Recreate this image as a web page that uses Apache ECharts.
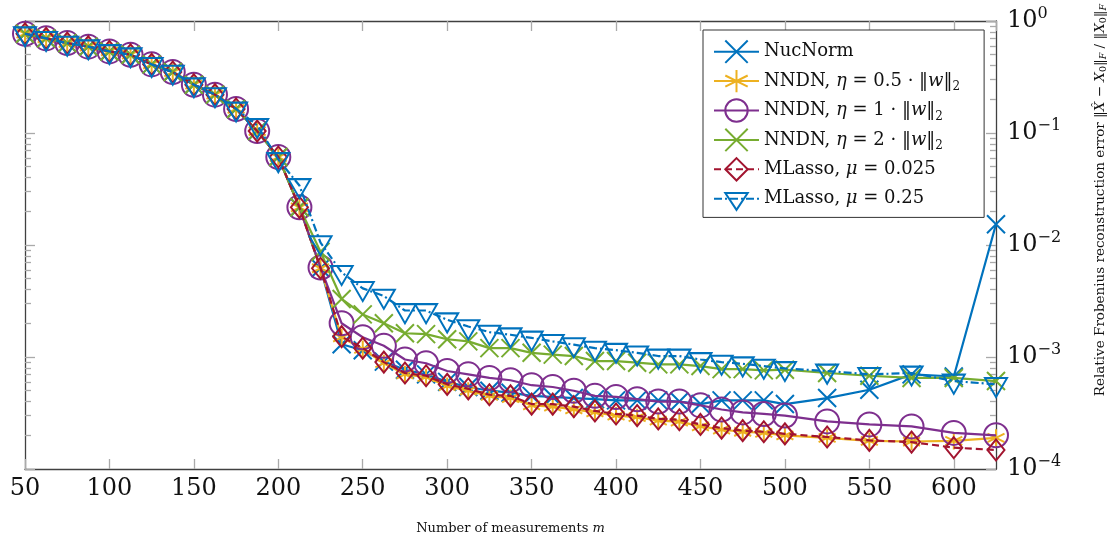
<!DOCTYPE html>
<html><head><meta charset="utf-8">
<script src="https://cdn.jsdelivr.net/npm/echarts@6/dist/echarts.min.js"></script>
<style>html,body{margin:0;padding:0;background:#fff}#c{width:1117px;height:540px}</style>
</head><body><div id="c"></div>
<script>
const xValues = [50, 62.5, 75, 87.5, 100, 112.5, 125, 137.5, 150, 162.5, 175, 187.5, 200, 212.5, 225, 237.5, 250, 262.5, 275, 287.5, 300, 312.5, 325, 337.5, 350, 362.5, 375, 387.5, 400, 412.5, 425, 437.5, 450, 462.5, 475, 487.5, 500, 525, 550, 575, 600, 625];

const nucNorm = [0.77, 0.70, 0.635, 0.59, 0.535, 0.50, 0.41, 0.35, 0.27, 0.22, 0.164, 0.104, 0.061, 0.0217, 0.0062, 0.0013, 0.00115, 0.00091, 0.00077, 0.0007, 0.0006, 0.00054, 0.0005, 0.00048, 0.00045, 0.00044, 0.00043, 0.00042, 0.00041, 0.00041, 0.00041, 0.0004, 0.00038, 0.00041, 0.00041, 0.00041, 0.00038, 0.00043, 0.00051, 0.0007, 0.00067, 0.0153];
const nndn05 = [0.77, 0.70, 0.635, 0.59, 0.535, 0.50, 0.41, 0.35, 0.27, 0.22, 0.164, 0.104, 0.061, 0.0217, 0.0062, 0.0015, 0.00118, 0.00088, 0.0007, 0.00066, 0.00055, 0.0005, 0.00045, 0.00043, 0.00037, 0.00036, 0.00034, 0.00032, 0.0003, 0.00029, 0.00027, 0.000265, 0.00024, 0.000225, 0.000215, 0.00021, 0.0002, 0.00019, 0.000178, 0.000176, 0.000178, 0.00019];
const nndn1 = [0.77, 0.70, 0.635, 0.59, 0.535, 0.50, 0.41, 0.35, 0.27, 0.22, 0.164, 0.104, 0.061, 0.0217, 0.0063, 0.002, 0.0015, 0.00126, 0.00095, 0.00088, 0.00075, 0.0007, 0.00065, 0.00062, 0.00056, 0.00054, 0.0005, 0.00045, 0.00044, 0.00042, 0.0004, 0.0004, 0.00037, 0.00034, 0.00032, 0.00031, 0.0003, 0.000266, 0.00025, 0.00024, 0.00021, 0.0002];
const nndn2 = [0.77, 0.70, 0.635, 0.59, 0.535, 0.50, 0.41, 0.35, 0.27, 0.22, 0.164, 0.104, 0.061, 0.0217, 0.0087, 0.0033, 0.0024, 0.002, 0.00163, 0.0016, 0.00144, 0.00138, 0.0012, 0.0012, 0.00109, 0.00105, 0.00102, 0.00092, 0.00092, 0.00089, 0.00086, 0.00086, 0.00083, 0.00078, 0.00078, 0.00076, 0.00077, 0.00072, 0.00068, 0.00065, 0.00065, 0.00061];
const mlasso025 = [0.77, 0.70, 0.635, 0.59, 0.535, 0.50, 0.41, 0.35, 0.27, 0.22, 0.164, 0.104, 0.061, 0.0217, 0.0062, 0.00152, 0.0012, 0.0009, 0.00072, 0.00068, 0.00057, 0.00052, 0.00046, 0.00045, 0.00038, 0.00038, 0.00036, 0.00033, 0.00031, 0.0003, 0.00028, 0.000275, 0.00025, 0.000232, 0.00022, 0.000215, 0.000206, 0.000193, 0.00018, 0.000174, 0.000155, 0.000148];
const mlasso25 = [0.77, 0.70, 0.635, 0.59, 0.535, 0.50, 0.41, 0.35, 0.27, 0.22, 0.164, 0.117, 0.058, 0.034, 0.0105, 0.0057, 0.0041, 0.0035, 0.0026, 0.0026, 0.00215, 0.00187, 0.00167, 0.00158, 0.00148, 0.00138, 0.00129, 0.0012, 0.00115, 0.00109, 0.00102, 0.00102, 0.00095, 0.0009, 0.00087, 0.00083, 0.00079, 0.00075, 0.0007, 0.00072, 0.00061, 0.00057];

const seriesNames = ['NucNorm', 'NNDN, η = 0.5 · ‖w‖2', 'NNDN, η = 1 · ‖w‖2', 'NNDN, η = 2 · ‖w‖2', 'MLasso, μ = 0.025', 'MLasso, μ = 0.25'];
const legendRich = [
  '{t|NucNorm}',
  '{t|NNDN, }{i|η}{t| = 0.5 · ‖}{i|w}{t|‖}{s|2}',
  '{t|NNDN, }{i|η}{t| = 1 · ‖}{i|w}{t|‖}{s|2}',
  '{t|NNDN, }{i|η}{t| = 2 · ‖}{i|w}{t|‖}{s|2}',
  '{t|MLasso, }{i|μ}{t| = 0.025}',
  '{t|MLasso, }{i|μ}{t| = 0.25}'
];
const yTickExponents = ['0', '−1', '−2', '−3', '−4'];

const FONT = 'DejaVu Serif';
const SYM_CROSS = 'path://M0,0L10,10M10,0L0,10';
const SYM_STAR = 'path://M5,0L5,10M0.67,2.5L9.33,7.5M0.67,7.5L9.33,2.5';
const SYM_DIAMOND = 'path://M5,0L10,6L5,12L0,6Z';
const SYM_TRI = 'path://M10,-5.77M0,0L20,0L10,17.32Z';

function mk(idx, vals, color, symbol, size, dash) {
  return {
    name: seriesNames[idx],
    type: 'line',
    data: xValues.map((x, i) => [x, vals[i]]),
    symbol: symbol,
    symbolSize: size,
    showAllSymbol: true,
    lineStyle: { color: color, width: 2.2, type: dash || 'solid' },
    itemStyle: { color: 'none', borderColor: color, borderWidth: 2 },
    emphasis: { disabled: true },
    z: 2 + idx
  };
}

const chart = echarts.init(document.getElementById('c'), null, { renderer: 'canvas' });
const axisLineStyle = { color: '#404040', width: 1.3 };
const tickStyle = { color: '#aaaaaa', width: 1.3 };
chart.setOption({
  animation: false,
  backgroundColor: '#fff',
  grid: { left: 25, right: 114, top: 21, bottom: 66 },
  xAxis: [{
    type: 'value', min: 50, max: 625, interval: 50, position: 'bottom',
    axisLine: { show: true, lineStyle: axisLineStyle },
    axisTick: { show: true, inside: true, length: 10, lineStyle: tickStyle },
    axisLabel: { fontFamily: FONT, fontSize: 24, color: '#111', margin: 8, showMaxLabel: false },
    splitLine: { show: false },
    name: '{t|Number of measurements }{i|m}', nameLocation: 'middle', nameGap: 53,
    nameTextStyle: { rich: { t: { fontFamily: FONT, fontSize: 13, color: '#111' }, i: { fontFamily: FONT, fontStyle: 'italic', fontSize: 13, color: '#111' } } }
  }, {
    type: 'value', min: 50, max: 625, interval: 50, position: 'top',
    axisLine: { show: true, lineStyle: axisLineStyle },
    axisTick: { show: true, inside: true, length: 10, lineStyle: tickStyle },
    axisLabel: { show: false }, splitLine: { show: false }
  }],
  yAxis: [{
    type: 'log', logBase: 10, min: 1e-4, max: 1, position: 'right',
    axisLine: { show: true, lineStyle: axisLineStyle },
    axisTick: { show: true, inside: true, length: 10, lineStyle: tickStyle },
    minorTick: { show: true, splitNumber: 9, length: 6, lineStyle: tickStyle },
    splitLine: { show: false }, minorSplitLine: { show: false },
    axisLabel: {
      margin: 11, color: '#111',
      formatter: v => '{b|10}{s|' + yTickExponents[Math.round(-Math.log10(v))] + '}',
      rich: {
        b: { fontFamily: FONT, fontSize: 24, lineHeight: 30, color: '#111' },
        s: { fontFamily: FONT, fontSize: 16, lineHeight: 16, verticalAlign: 'top', color: '#111' }
      }
    },
    name: '{t|Relative Frobenius reconstruction error ‖}{i|X̂}{t| − }{i|X}{s|0}{t|‖}{si|F}{t| / ‖}{i|X}{s|0}{t|‖}{si|F}',
    nameLocation: 'middle', nameRotate: 90, nameGap: 95,
    nameTextStyle: { padding: [0, 0, 0, 90], rich: {
      t: { fontFamily: FONT, fontSize: 13.5, lineHeight: 18, color: '#111' },
      i: { fontFamily: FONT, fontStyle: 'italic', fontSize: 13.5, lineHeight: 18, color: '#111' },
      s: { fontFamily: FONT, fontSize: 9.5, lineHeight: 11, verticalAlign: 'bottom', color: '#111' },
      si: { fontFamily: FONT, fontStyle: 'italic', fontSize: 9.5, lineHeight: 11, verticalAlign: 'bottom', color: '#111' }
    } }
  }, {
    type: 'log', logBase: 10, min: 1e-4, max: 1, position: 'left',
    axisLine: { show: true, lineStyle: axisLineStyle },
    axisTick: { show: true, inside: true, length: 10, lineStyle: tickStyle },
    minorTick: { show: true, splitNumber: 9, length: 6, lineStyle: tickStyle },
    splitLine: { show: false }, minorSplitLine: { show: false },
    axisLabel: { show: false }
  }],
  legend: {
    orient: 'vertical', left: 703, top: 30,
    padding: [8, 24, 5, 10], itemGap: 2, itemWidth: 45, itemHeight: 28, itemTextGap: 6,
    borderColor: '#333', borderWidth: 1, backgroundColor: '#fff',
    selectedMode: false,
    data: seriesNames,
    formatter: name => legendRich[seriesNames.indexOf(name)],
    textStyle: { rich: {
      t: { fontFamily: FONT, fontSize: 18, lineHeight: 24, color: '#111' },
      i: { fontFamily: FONT, fontStyle: 'italic', fontSize: 18, lineHeight: 24, color: '#111' },
      s: { fontFamily: FONT, fontSize: 12, lineHeight: 14, verticalAlign: 'bottom', color: '#111' }
    } }
  },
  series: [
    mk(0, nucNorm, '#0072BD', SYM_CROSS, 18),
    mk(1, nndn05, '#EDB120', SYM_STAR, 17),
    mk(2, nndn1, '#7E2F8E', 'circle', 24),
    mk(3, nndn2, '#77AC30', SYM_CROSS, 18),
    mk(4, mlasso025, '#A2142F', SYM_DIAMOND, [17, 21], [7, 4]),
    mk(5, mlasso25, '#0072BD', SYM_TRI, [22, 25.4], [8, 3, 2, 3])
  ]
});
</script>
</body></html>
